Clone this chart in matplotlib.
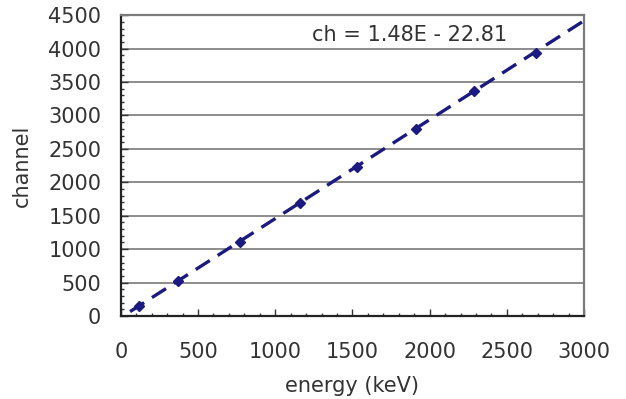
import matplotlib
matplotlib.use("Agg")
import matplotlib.pyplot as plt
import numpy as np
from matplotlib.ticker import MultipleLocator

# data
energy = [120, 370, 775, 1160, 1530, 1910, 2285, 2690]
channel = [150, 530, 1110, 1690, 2235, 2790, 3360, 3940]
fit_slope = 1.48
fit_offset = -22.81
fit_range = [60, 3000]

fig = plt.figure(figsize=(6.26, 3.99), dpi=100)
ax = fig.add_axes([0.193, 0.208, 0.740, 0.754])

# fitted line
xf = np.array(fit_range)
ax.plot(xf, fit_slope * xf + fit_offset, color="#1a1a80", lw=2.4,
        dashes=(5, 2.8), zorder=3)
ax.plot(energy, channel, ls="none", marker="D", ms=5,
        color="#1a1a80", zorder=4)

ax.set_xlim(0, 3000)
ax.set_ylim(0, 4500)
ax.xaxis.set_major_locator(MultipleLocator(500))
ax.xaxis.set_minor_locator(MultipleLocator(100))
ax.yaxis.set_major_locator(MultipleLocator(500))
ax.yaxis.set_minor_locator(MultipleLocator(100))

ax.grid(axis="y", which="major", color="#8c8c8c", lw=1.4)
ax.set_axisbelow(True)

ax.tick_params(which="both", direction="in", colors="#333333",
               labelsize=15, labelcolor="#333333")
ax.tick_params(which="major", length=5, width=1)
ax.tick_params(which="minor", length=2.5, width=1)
ax.tick_params(axis="x", pad=19)
ax.tick_params(axis="y", pad=14)

for s in ["top", "right"]:
    ax.spines[s].set_color("#7a7a7a")
    ax.spines[s].set_linewidth(1.6)
for s in ["bottom", "left"]:
    ax.spines[s].set_color("#222222")
    ax.spines[s].set_linewidth(1.6)

ax.text(1240, 4200, "ch = 1.48E - 22.81", fontsize=15, color="#333333",
        va="center", ha="left")

ax.set_xlabel("energy (keV)", fontsize=15, color="#333333", labelpad=10)
ax.set_ylabel("channel", fontsize=15, color="#333333", labelpad=12)

fig.savefig("out.png", dpi=100)
